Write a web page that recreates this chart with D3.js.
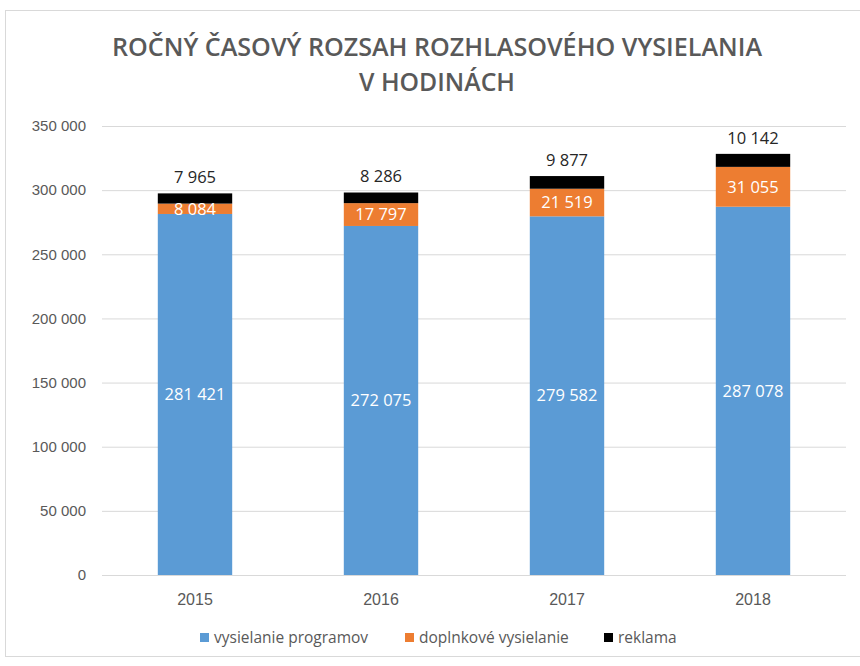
<!DOCTYPE html>
<html>
<head>
<meta charset="utf-8">
<script src="https://cdn.jsdelivr.net/npm/d3@7"></script>
<style>
  body { margin: 0; background: #fff; }
  svg { display: block; font-family: "Open Sans", "Noto Sans", sans-serif; }
</style>
</head>
<body>
<div id="chart"></div>
<script>
// data
const years = ["2015", "2016", "2017", "2018"];
const programy = [281421, 272075, 279582, 287078];
const doplnkove = [8084, 17797, 21519, 31055];
const reklama = [7965, 8286, 9877, 10142];
const seriesNames = ["vysielanie programov", "doplnkové vysielanie", "reklama"];
const yTicks = [0, 50000, 100000, 150000, 200000, 250000, 300000, 350000];

const width = 860, height = 666;
const margin = { top: 126, right: 14, bottom: 91, left: 102 };
const colors = ["#5b9bd5", "#ed7d31", "#000000"];

const fmt = d3.formatLocale({ decimal: ",", thousands: " ", grouping: [3], currency: ["", ""] }).format(",d");

const svg = d3.select("#chart").append("svg")
  .attr("width", width)
  .attr("height", height);

// outer frame
svg.append("rect")
  .attr("x", 5.5).attr("y", 10.5)
  .attr("width", 870).attr("height", 646)
  .attr("fill", "#fff")
  .attr("stroke", "#d9d9d9");

// title
const title = svg.append("g").attr("fill", "#595959").attr("font-weight", 600)
  .attr("text-anchor", "middle").attr("font-size", 25);
title.append("text").attr("x", 437).attr("y", 56)
  .attr("textLength", 650).attr("lengthAdjust", "spacingAndGlyphs")
  .text("ROČNÝ ČASOVÝ ROZSAH ROZHLASOVÉHO VYSIELANIA");
title.append("text").attr("x", 437).attr("y", 91)
  .attr("textLength", 156).attr("lengthAdjust", "spacingAndGlyphs")
  .text("V HODINÁCH");

const x = d3.scaleBand()
  .domain(years)
  .range([margin.left, width - margin.right])
  .paddingInner(0.6)
  .paddingOuter(0.3);

const y = d3.scaleLinear()
  .domain([0, 350000])
  .range([height - margin.bottom, margin.top]);

// gridlines
svg.append("g")
  .selectAll("line")
  .data(yTicks)
  .join("line")
  .attr("x1", margin.left).attr("x2", width - margin.right)
  .attr("y1", d => y(d) + 0.5).attr("y2", d => y(d) + 0.5)
  .attr("stroke", "#d9d9d9");

// y axis labels
const yAxis = svg.append("g")
  .attr("transform", `translate(${margin.left},0)`)
  .call(d3.axisLeft(y).tickValues(yTicks).tickFormat(fmt).tickSize(0).tickPadding(16));
yAxis.select(".domain").remove();
yAxis.selectAll("text").attr("fill", "#595959").attr("font-size", 15);

// x axis labels
const xAxis = svg.append("g")
  .attr("transform", `translate(0,${y(0)})`)
  .call(d3.axisBottom(x).tickSize(0).tickPadding(19));
xAxis.select(".domain").remove();
xAxis.selectAll("text").attr("fill", "#595959").attr("font-size", 16);

// stacked bars
const rows = years.map((yr, i) => ({ year: yr, a: programy[i], b: doplnkove[i], c: reklama[i] }));
const stack = d3.stack().keys(["a", "b", "c"]);
const layers = stack(rows);

const groups = svg.append("g")
  .selectAll("g")
  .data(layers)
  .join("g")
  .attr("fill", (d, i) => colors[i]);

groups.selectAll("rect")
  .data(d => d)
  .join("rect")
  .attr("x", d => x(d.data.year))
  .attr("width", x.bandwidth())
  .attr("y", d => y(d[1]))
  .attr("height", d => y(d[0]) - y(d[1]));

// labels inside blue and orange segments
layers.slice(0, 2).forEach(layer => {
  svg.append("g")
    .selectAll("text")
    .data(layer)
    .join("text")
    .attr("x", d => x(d.data.year) + x.bandwidth() / 2)
    .attr("y", d => (y(d[0]) + y(d[1])) / 2)
    .attr("dy", "0.35em")
    .attr("text-anchor", "middle")
    .attr("fill", "#ffffff")
    .attr("font-size", 16.5)
    .text(d => fmt(d[1] - d[0]));
});

// reklama labels above the bars
svg.append("g")
  .selectAll("text")
  .data(layers[2])
  .join("text")
  .attr("x", d => x(d.data.year) + x.bandwidth() / 2)
  .attr("y", d => y(d[1]) - 16)
  .attr("dy", "0.35em")
  .attr("text-anchor", "middle")
  .attr("fill", "#262626")
  .attr("font-size", 16.5)
  .text(d => fmt(d[1] - d[0]));

// legend
const legendX = [200, 405, 604];
const legend = svg.append("g").attr("transform", "translate(0,638)");
const items = legend.selectAll("g")
  .data(seriesNames)
  .join("g")
  .attr("transform", (d, i) => `translate(${legendX[i]},0)`);
items.append("rect")
  .attr("x", 0).attr("y", -5)
  .attr("width", 9).attr("height", 9)
  .attr("fill", (d, i) => colors[i]);
items.append("text")
  .attr("x", 14).attr("dy", "0.35em")
  .attr("fill", "#595959").attr("font-size", 15.5)
  .text(d => d);
</script>
</body>
</html>
